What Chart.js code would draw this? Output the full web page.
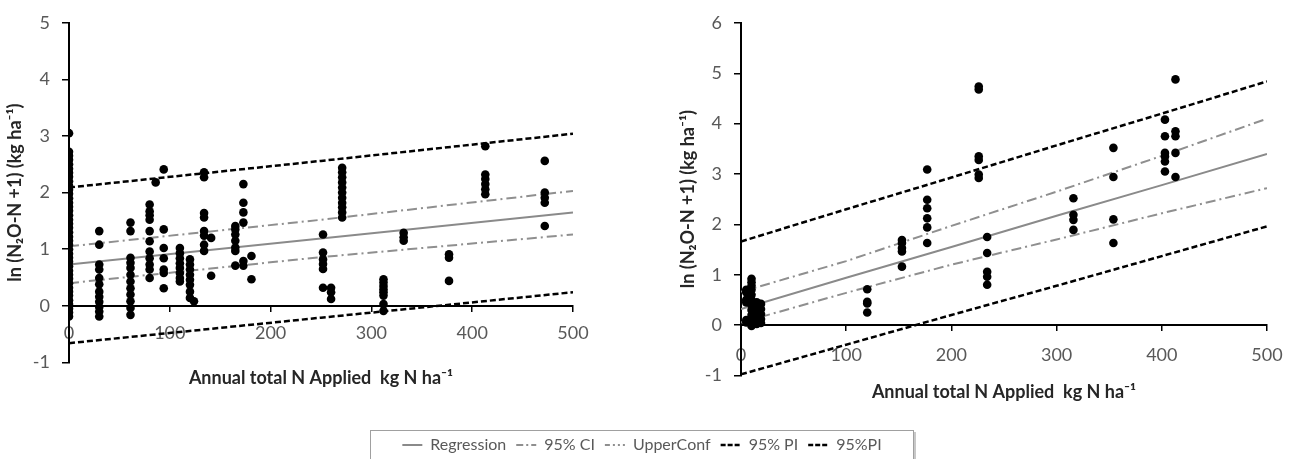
<!DOCTYPE html>
<html>
<head>
<meta charset="utf-8">
<script src="https://cdn.jsdelivr.net/npm/chart.js@4.4.1/dist/chart.umd.min.js"></script>
<style>
  body { margin: 0; background: #fff; width: 1298px; height: 459px; position: relative; overflow: hidden; }
  #left { position: absolute; left: 0; top: 0; }
  #right { position: absolute; left: 670px; top: 0; }
  #legendBox { position: absolute; left: 370px; top: 430px; width: 542px; height: 28px; overflow: hidden;
               border: 1px solid #a0a0a0; box-shadow: 2px 2px 0 #c8c8c8; background: #fff; }
  #legend { display: block; margin-top: -4px; }
</style>
</head>
<body>
<canvas id="left" width="620" height="400"></canvas>
<canvas id="right" width="628" height="410"></canvas>
<div id="legendBox"><canvas id="legend" width="542" height="70"></canvas></div>
<script>
// valores
const leftX = [0, 30, 61, 80, 86, 94, 110, 120, 124, 134, 141, 165, 173, 181, 252, 260, 271, 312, 332, 377, 413, 472];
const leftY = [
  [3.05, 2.72, 2.65, 2.58, 2.5, 2.42, 2.35, 2.28, 2.2, 2.12, 2.05, 1.98, 1.9, 1.82, 1.75, 1.68, 1.6, 1.52, 1.45, 1.38,
   1.3, 1.22, 1.15, 1.08, 1.0, 0.92, 0.85, 0.78, 0.7, 0.62, 0.55, 0.48, 0.4, 0.32, 0.25, 0.18, 0.1, 0.03, -0.05, -0.12, -0.19],
  [1.32, 1.08, 0.73, 0.64, 0.49, 0.38, 0.25, 0.16, 0.07, -0.02, -0.1, -0.19],
  [1.47, 1.32, 0.85, 0.76, 0.67, 0.55, 0.43, 0.31, 0.2, 0.08, -0.04, -0.16],
  [1.79, 1.67, 1.6, 1.52, 1.32, 1.14, 0.96, 0.84, 0.73, 0.64, 0.49],
  [2.18],
  [2.41, 1.35, 1.02, 0.84, 0.64, 0.58, 0.31],
  [1.02, 0.93, 0.84, 0.75, 0.67, 0.58, 0.49, 0.43],
  [0.82, 0.73, 0.64, 0.55, 0.46, 0.37, 0.25, 0.14],
  [0.08],
  [2.36, 2.27, 1.64, 1.56, 1.32, 1.24, 1.08, 0.97],
  [1.2, 0.53],
  [1.41, 1.35, 1.26, 1.15, 1.03, 0.97, 0.71],
  [2.15, 1.82, 1.65, 1.47, 0.79, 0.71],
  [0.88, 0.47],
  [1.26, 0.94, 0.82, 0.74, 0.65, 0.32],
  [0.32, 0.24, 0.12],
  [2.44, 2.36, 2.27, 2.18, 2.09, 2.0, 1.91, 1.82, 1.74, 1.65, 1.56],
  [0.47, 0.41, 0.35, 0.29, 0.24, 0.18, 0.03, -0.09],
  [1.29, 1.21, 1.15],
  [0.91, 0.85, 0.44],
  [2.82, 2.32, 2.24, 2.15, 2.06, 1.97],
  [2.56, 2.0, 1.91, 1.82, 1.41]
];
const leftLineX = [0, 250, 500];
const leftReg = [0.73, 1.19, 1.65];
const leftCiUpper = [1.05, 1.52, 2.03];
const leftCiLower = [0.40, 0.86, 1.26];
const leftPiUpper = [2.09, 2.56, 3.04];
const leftPiLower = [-0.66, -0.21, 0.24];

const rightX = [5, 10, 15, 19, 120, 153, 177, 226, 234, 316, 354, 403, 413];
const rightY = [
  [0.7, 0.65, 0.5, 0.45, 0.1, 0.05],
  [0.92, 0.85, 0.78, 0.7, 0.6, 0.5, 0.4, 0.3, 0.2, 0.1, 0.03, -0.02],
  [0.45, 0.38, 0.3, 0.22, 0.15, 0.08, 0.02],
  [0.42, 0.32, 0.22, 0.12, 0.04],
  [0.71, 0.46, 0.43, 0.25],
  [1.69, 1.63, 1.53, 1.46, 1.16],
  [3.09, 2.49, 2.32, 2.12, 1.94, 1.63],
  [4.74, 4.68, 3.35, 3.28, 2.99, 2.92],
  [1.75, 1.43, 1.06, 0.96, 0.8],
  [2.52, 2.19, 2.09, 1.89],
  [3.52, 2.94, 2.1, 1.63],
  [4.08, 3.75, 3.42, 3.35, 3.25, 3.05],
  [4.88, 3.85, 3.75, 3.42, 2.94]
];
const rightLineX = [0, 100, 200, 300, 400, 500];
const rightReg = [0.32, 0.94, 1.55, 2.17, 2.78, 3.40];
const rightCiUpper = [0.66, 1.27, 1.97, 2.65, 3.36, 4.10];
const rightCiLower = [0.05, 0.64, 1.20, 1.70, 2.22, 2.72];
const rightPiUpper = [1.66, 2.30, 2.93, 3.57, 4.20, 4.84];
const rightPiLower = [-0.98, -0.39, 0.20, 0.78, 1.37, 1.96];

const legendLabels = ['Regression', '95% CI', 'UpperConf', '95% PI', '95%PI'];
const yTitle = 'ln (N\u2082O-N +1) (kg ha\u207B\u00B9)';
const xTitle = 'Annual total N Applied  kg N ha\u207B\u00B9';

const FONT = 'Lato, "Open Sans", sans-serif';
const grisReg = '#8a8a8a';
const grisCi = '#8f8f8f';

const estilos = [
  { borderColor: grisReg, borderWidth: 2, borderDash: [] },
  { borderColor: grisCi, borderWidth: 2, borderDash: [10, 4, 2, 4] },
  { borderColor: grisCi, borderWidth: 2, borderDash: [10, 4, 2, 4] },
  { borderColor: '#000', borderWidth: 2.5, borderDash: [6, 3] },
  { borderColor: '#000', borderWidth: 2.5, borderDash: [6, 3] }
];

// el estilo de la muestra en la leyenda (mas corta que la linea real)
const estilosLeyenda = [
  { lineDash: [] },
  { lineDash: [7, 3, 2, 3] },
  { lineDash: [5, 3, 2, 3, 2, 3] },
  { lineDash: [5, 2] },
  { lineDash: [5, 2] }
];

function puntos(xs, grupos) {
  return grupos.flatMap((ys, i) => ys.map(y => ({ x: xs[i], y: y })));
}

function linea(xs, ys, idx) {
  return Object.assign({
    type: 'line',
    label: legendLabels[idx],
    data: xs.map((x, i) => ({ x: x, y: ys[i] })),
    pointRadius: 0,
    fill: false,
    tension: 0,
    order: 2
  }, estilos[idx]);
}

function crearGrafica(id, xs, grupos, lx, lineas, yMax, pad, axisW, yTitlePad, xTitlePad, xTickPad) {
  const ctx = document.getElementById(id).getContext('2d');
  return new Chart(ctx, {
    type: 'scatter',
    data: {
      datasets: [
        {
          label: 'datos',
          data: puntos(xs, grupos),
          backgroundColor: '#000',
          borderColor: '#000',
          borderWidth: 0,
          pointRadius: 4.3,
          order: 1
        },
        ...lineas.map((ys, i) => linea(lx, ys, i))
      ]
    },
    options: {
      responsive: false,
      animation: false,
      layout: { padding: pad },
      plugins: {
        legend: { display: false },
        tooltip: { enabled: false },
        title: {
          display: true,
          position: 'bottom',
          fullSize: false,
          text: xTitle,
          color: '#262626',
          font: { family: FONT, size: 18, weight: 'bold' },
          padding: { top: xTitlePad, bottom: 0 }
        }
      },
      scales: {
        x: {
          type: 'linear',
          position: { y: 0 },
          min: 0,
          max: 500,
          ticks: { stepSize: 100, color: '#595959', padding: xTickPad, font: { family: FONT, size: 18 } },
          grid: { drawOnChartArea: false, tickLength: 5, color: '#000', lineWidth: 1.5 },
          border: { color: '#000', width: 2 }
        },
        y: {
          type: 'linear',
          position: 'left',
          min: -1,
          max: yMax,
          afterFit: (s) => { s.width = axisW; },
          ticks: { stepSize: 1, color: '#595959', padding: 12, font: { family: FONT, size: 18 } },
          grid: { drawOnChartArea: false, tickLength: 7, color: '#000', lineWidth: 1.5 },
          border: { color: '#000', width: 2 },
          title: {
            display: true,
            text: yTitle,
            color: '#262626',
            font: { family: FONT, size: 18, weight: 'bold' },
            padding: { top: yTitlePad, bottom: 0 }
          }
        }
      }
    }
  });
}

const chartLeft = crearGrafica('left', leftX, leftY, leftLineX,
  [leftReg, leftCiUpper, leftCiLower, leftPiUpper, leftPiLower],
  5, { left: 0, top: 22, right: 47, bottom: 11 }, 69, 4, 5, 12);

const chartRight = crearGrafica('right', rightX, rightY, rightLineX,
  [rightReg, rightCiUpper, rightCiLower, rightPiUpper, rightPiLower],
  6, { left: 0, top: 23, right: 31, bottom: 7 }, 71, 7, 6, 14);

// leyenda comun debajo de las dos graficas
const chartLegend = new Chart(document.getElementById('legend').getContext('2d'), {
  type: 'line',
  data: {
    datasets: legendLabels.map((lab, i) => Object.assign({ label: lab, data: [] }, estilos[i]))
  },
  options: {
    responsive: false,
    animation: false,
    layout: { padding: 0 },
    scales: { x: { display: false }, y: { display: false } },
    plugins: {
      tooltip: { enabled: false },
      legend: {
        display: true,
        position: 'top',
        align: 'center',
        onClick: null,
        labels: {
          usePointStyle: true,
          pointStyle: 'line',
          pointStyleWidth: 20,
          boxHeight: 16,
          padding: 10,
          color: '#595959',
          font: { family: FONT, size: 16 },
          generateLabels: (chart) => {
            const items = Chart.defaults.plugins.legend.labels.generateLabels(chart);
            items.forEach((it, i) => {
              const ds = chart.data.datasets[i];
              it.lineDash = estilosLeyenda[i].lineDash;
              it.lineWidth = ds.borderWidth;
              it.strokeStyle = ds.borderColor;
              it.pointStyle = 'line';
            });
            return items;
          }
        }
      }
    }
  }
});
</script>
</body>
</html>
